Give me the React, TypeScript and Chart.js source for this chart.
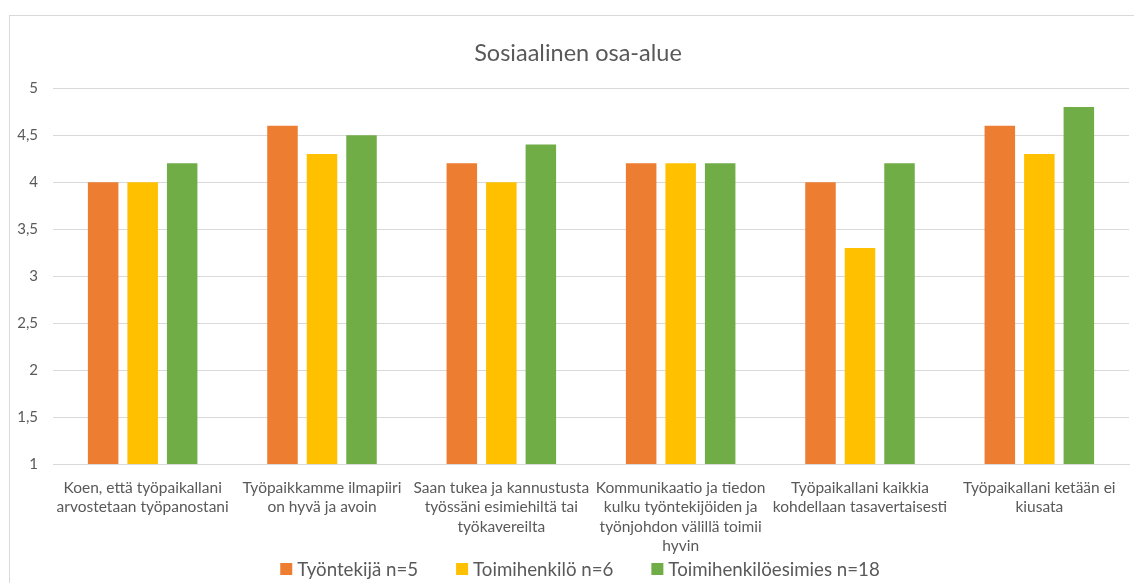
import React, { useEffect, useRef } from "react";
import { Chart, registerables } from "chart.js";

Chart.register(...registerables);

// Question texts, already wrapped into lines
const categories: string[][] = [
  ["Koen, että työpaikallani", "arvostetaan työpanostani"],
  ["Työpaikkamme ilmapiiri", "on hyvä ja avoin"],
  ["Saan tukea ja kannustusta", "työssäni esimiehiltä tai", "työkavereilta"],
  ["Kommunikaatio ja tiedon", "kulku työntekijöiden ja", "työnjohdon välillä toimii", "hyvin"],
  ["Työpaikallani kaikkia", "kohdellaan tasavertaisesti"],
  ["Työpaikallani ketään ei", "kiusata"],
];

const seriesLabels = ["Työntekijä n=5", "Toimihenkilö n=6", "Toimihenkilöesimies n=18"];
const tyontekija = [4.0, 4.6, 4.2, 4.2, 4.0, 4.6];
const toimihenkilo = [4.0, 4.3, 4.0, 4.2, 3.3, 4.3];
const esimies = [4.2, 4.5, 4.4, 4.2, 4.2, 4.8];
const seriesColors = ["#ED7D31", "#FFC000", "#70AD47"];

const yMin = 1;
const yMax = 5;
const yStep = 0.5;

const FONT = "Lato";
const TEXT = "#595959";
const GRID = "#d9d9d9";

// Center the title over the whole canvas rather than the padded layout box
const centerTitle = {
  id: "centerTitle",
  afterLayout(chart: any) {
    const t = chart.titleBlock;
    if (t) {
      t.left = 0;
      t.right = chart.width;
      t.width = chart.width;
    }
  },
};

// Legend row under the category labels
const bottomLegend = {
  id: "bottomLegend",
  afterDraw(chart: any) {
    const ctx = chart.ctx as CanvasRenderingContext2D;
    const box = 12;
    const gapText = 5;
    const gapItem = 38;
    ctx.save();
    ctx.font = `18.7px ${FONT}`;
    const items = chart.data.datasets.map((ds: any) => ({
      label: ds.label as string,
      color: ds.backgroundColor as string,
      w: ctx.measureText(ds.label).width,
    }));
    const total =
      items.reduce((s: number, it: any) => s + box + gapText + it.w, 0) + gapItem * (items.length - 1);
    let x = chart.width / 2 - total / 2 + 2;
    const y = 553;
    ctx.textBaseline = "middle";
    ctx.textAlign = "left";
    for (const it of items) {
      ctx.fillStyle = it.color;
      ctx.fillRect(x, y - box / 2, box, box);
      ctx.fillStyle = TEXT;
      ctx.fillText(it.label, x + box + gapText, y + 1);
      x += box + gapText + it.w + gapItem;
    }
    ctx.restore();
  },
};

function BarChart() {
  const ref = useRef<HTMLCanvasElement | null>(null);

  useEffect(() => {
    if (!ref.current) return;
    const values = [tyontekija, toimihenkilo, esimies];
    const chart = new Chart(ref.current, {
      type: "bar",
      data: {
        labels: categories,
        datasets: seriesLabels.map((label, i) => ({
          label,
          data: values[i],
          backgroundColor: seriesColors[i],
          borderWidth: 0,
          categoryPercentage: 0.661,
          barPercentage: 0.772,
        })),
      },
      options: {
        responsive: false,
        animation: false,
        layout: { padding: { left: 0, right: 17, top: 0, bottom: 0 } },
        plugins: {
          legend: { display: false },
          tooltip: { enabled: false },
          title: {
            display: true,
            text: "Sosiaalinen osa-alue",
            color: TEXT,
            font: { family: FONT, size: 23.5, weight: "normal", lineHeight: 1.2 },
            padding: { top: 23, bottom: 21 },
          },
        },
        scales: {
          x: {
            grid: { display: false, drawTicks: false },
            border: { display: true, color: GRID, width: 1 },
            ticks: {
              color: TEXT,
              font: { family: FONT, size: 15.5, lineHeight: 1.26 },
              padding: 14,
              maxRotation: 0,
              autoSkip: false,
            },
            afterFit(scale: any) {
              scale.height = 119;
            },
          },
          y: {
            min: yMin,
            max: yMax,
            grid: { color: GRID, lineWidth: 1, drawTicks: false },
            border: { display: false },
            ticks: {
              stepSize: yStep,
              color: TEXT,
              font: { family: FONT, size: 15 },
              padding: 15,
              callback: (v: any) => String(v).replace(".", ","),
            },
            afterFit(scale: any) {
              scale.width = 43;
            },
          },
        },
      },
      plugins: [centerTitle, bottomLegend],
    });
    return () => chart.destroy();
  }, []);

  return <canvas ref={ref} width={1136} height={567} style={{ display: "block" }} />;
}

export default function App() {
  return (
    <div
      style={{
        position: "fixed",
        left: 0,
        top: 0,
        width: 1134,
        height: 583,
        overflow: "hidden",
        background: "#ffffff",
      }}
    >
      <div
        style={{
          position: "absolute",
          left: 9,
          top: 15,
          width: 1136,
          height: 580,
          border: `1px solid ${GRID}`,
          background: "#ffffff",
        }}
      >
        <BarChart />
      </div>
    </div>
  );
}
